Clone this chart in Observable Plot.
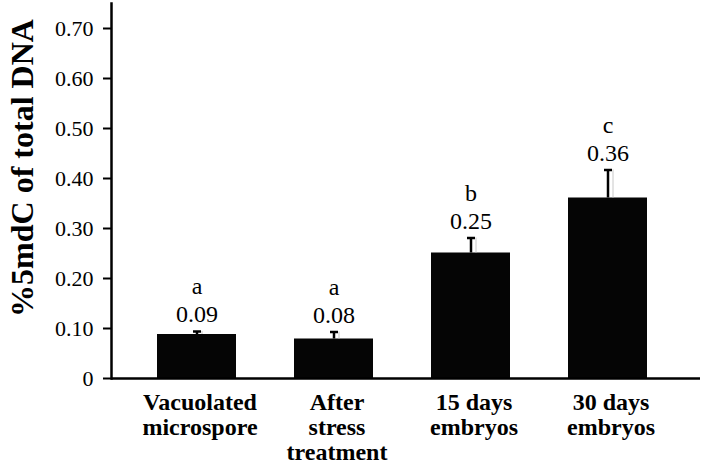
<!DOCTYPE html>
<html>
<head>
<meta charset="utf-8">
<script src="https://cdn.jsdelivr.net/npm/d3@7"></script>
<script src="https://cdn.jsdelivr.net/npm/@observablehq/plot@0.6"></script>
<style>
body { margin: 0; background: #fff; }
svg text { font-family: "Liberation Serif", "Times New Roman", serif !important; }
</style>
</head>
<body>
<div id="chart"></div>
<script>
const categories = ["Vacuolated\nmicrospore", "After\nstress\ntreatment", "15 days\nembryos", "30 days\nembryos"];
const values = [0.088, 0.079, 0.251, 0.361];
const errors = [0.006, 0.014, 0.030, 0.056];
const valueLabels = ["0.09", "0.08", "0.25", "0.36"];
const letters = ["a", "a", "b", "c"];
const yTicks = [0, 0.1, 0.2, 0.3, 0.4, 0.5, 0.6, 0.7];
const yTitle = "%5mdC of total DNA";

const data = categories.map((c, i) => ({
  cat: c, value: values[i], top: values[i] + errors[i],
  label: valueLabels[i], letter: letters[i]
}));

const serif = '"Liberation Serif", "Times New Roman", serif';

const chart = Plot.plot({
  width: 702,
  height: 469,
  marginLeft: 111,
  marginRight: 9,
  marginTop: 3,
  marginBottom: 91,
  style: 'font-family: "Liberation Serif", "Times New Roman", serif; background: #fff;',
  x: { domain: categories, paddingInner: 0.42, paddingOuter: 0.32, axis: null },
  y: { domain: [0, 0.75], axis: null },
  marks: [
    Plot.barY(data, { x: "cat", y: "value", fill: "#050505" }),
    Plot.ruleX(data, { x: "cat", y1: "value", y2: "top", stroke: "#c8c8c8", strokeWidth: 1, dx: 5 }),
    Plot.ruleX(data, { x: "cat", y1: "value", y2: "top", stroke: "#000", strokeWidth: 2.5 }),
    Plot.tickY(data, { x: "cat", y: "top", stroke: "#000", strokeWidth: 2.5, insetLeft: 36, insetRight: 35 }),
    Plot.text(data, { x: "cat", y: "top", text: "label", dy: -17, fontSize: 24, fontFamily: serif, fill: "#000" }),
    Plot.text(data, { x: "cat", y: "top", text: "letter", dy: -45, fontSize: 24, fontFamily: serif, fill: "#000" }),
    Plot.axisY({ ticks: yTicks, tickFormat: d => d === 0 ? "0" : d.toFixed(2), tickSize: 8, tickPadding: 10, fontSize: 22, fontFamily: serif, strokeWidth: 2, label: null, color: "#000" }),
    Plot.frame({ anchor: "left", stroke: "#000", strokeWidth: 2.5 }),
    Plot.ruleY([0], { stroke: "#000", strokeWidth: 2.5, insetRight: -7 }),
    Plot.text(data, { x: "cat", y: 0, text: "cat", lineAnchor: "top", dy: 14, dx: 3, lineHeight: 1.04, fontSize: 24, fontWeight: "bold", fontFamily: serif, fill: "#000" }),
    Plot.text([yTitle], { text: d => d, frameAnchor: "left", textAnchor: "middle", dx: -89, dy: -23, rotate: -90, fontSize: 32, fontWeight: "bold", fontFamily: serif, fill: "#000" })
  ]
});
document.getElementById("chart").appendChild(chart);
</script>
</body>
</html>
